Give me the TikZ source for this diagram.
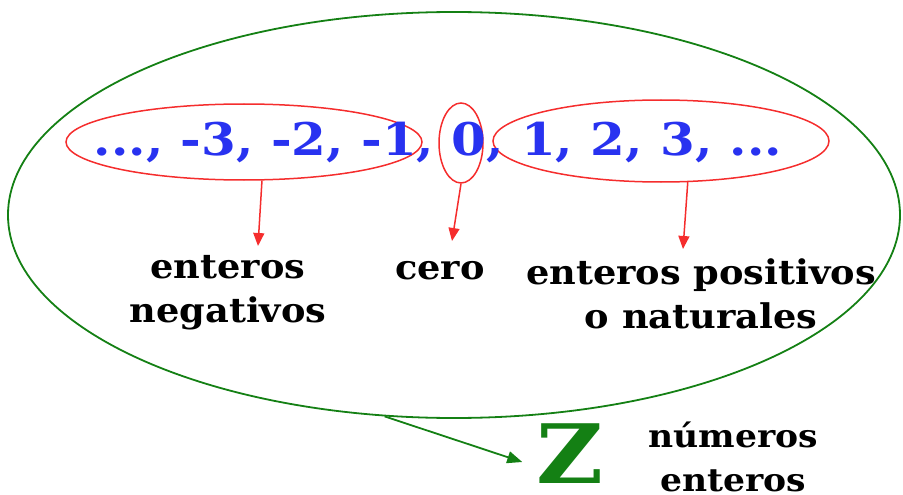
\documentclass[tikz,border=0pt]{standalone}
\usepackage{fontspec}
\setmainfont{DejaVu Serif}
\usetikzlibrary{shapes.geometric,arrows.meta}
\definecolor{zgreen}{RGB}{20,128,20}
\definecolor{zred}{RGB}{245,45,45}
\definecolor{zblue}{RGB}{40,50,240}
\begin{document}
\begin{tikzpicture}[x=1pt,y=-1pt,
  ring/.style={draw=zred, line width=1.5pt, ellipse, inner sep=0pt},
  redarrow/.style={draw=zred, line width=1.5pt, -{Triangle[length=13pt,width=11pt]}, fill=zred},
  label/.style={font=\bfseries\fontsize{34}{44}\selectfont, align=center, inner sep=0pt, xscale=1.08}]
\useasboundingbox (0,0) rectangle (903,495);
\node[draw=zgreen, line width=1.8pt, ellipse, minimum width=892pt, minimum height=406pt, inner sep=0pt] (zset) at (454,215) {};
\node[ring, minimum width=356pt, minimum height=76pt] (neg) at (244,142) {};
\node[ring, minimum width=44pt, minimum height=80pt] (zero) at (461,143) {};
\node[ring, minimum width=336pt, minimum height=82pt] (pos) at (661,141) {};
\node[font=\bfseries\fontsize{45}{45}\selectfont, text=zblue, inner sep=0pt, xscale=1.11] (seq) at (438,143) {..., -3, -2, -1, 0, 1, 2, 3, ...};
\node[label] (neglbl) at (228,293) {enteros\\negativos};
\node[label] (zerolbl) at (440,271) {cero};
\node[label] (poslbl) at (701,294) {enteros positivos\\o naturales};
\coordinate (negtip) at (258,246);
\coordinate (zerotip) at (452,241);
\coordinate (postip) at (683,249);
\draw[redarrow] (neg.-65) -- (negtip);
\draw[redarrow] (zero.south) -- (zerotip);
\draw[redarrow] (pos.-57) -- (postip);
\node[font=\bfseries\fontsize{82}{82}\selectfont, text=zgreen, inner sep=0pt, xscale=1.12, anchor=base] (zletter) at (570,483) {Z};
\node[label, font=\bfseries\fontsize{32}{44}\selectfont] (zlbl) at (733,457) {números\\enteros};
\draw[draw=zgreen, fill=zgreen, line width=1.8pt, -{Triangle[length=15pt,width=12pt]}] (zset.251) -- ([xshift=-14pt,yshift=21pt]zletter.base west);
\end{tikzpicture}
\end{document}
